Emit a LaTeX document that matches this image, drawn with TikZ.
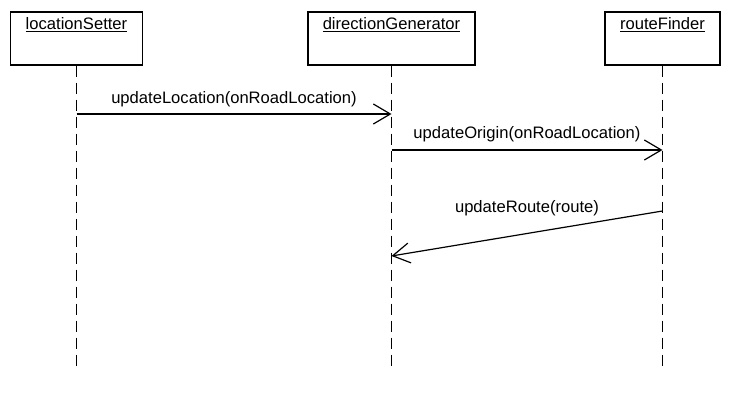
\documentclass[tikz,border=0pt]{standalone}
\usepackage{fontspec}
\setmainfont{Liberation Sans}
\usetikzlibrary{arrows.meta, positioning}
\begin{document}
\begin{tikzpicture}[x=1pt, y=-1pt,
		obj/.style={draw, line width=1.2pt, inner sep=0pt, minimum height=53pt},
		objname/.style={below=3pt of #1},
		life/.style={line width=1.2pt, dash pattern=on 11pt off 6pt},
		msg/.style={line width=1.2pt, -{Straight Barb[length=17pt, width=20pt]}},
		font=\fontsize{16.6}{20}\selectfont]
		% Bildbereich
		\useasboundingbox (0,0) rectangle (745,401);
		% Objekte zeichnen
		\node[obj, minimum width=132pt] (ls) at (76.5,38.5) {};
		\node[obj, minimum width=167pt] (dg) at (391.5,38.5) {};
		\node[obj, minimum width=115pt] (rf) at (662.5,38.5) {};
		\node[objname=ls.north] (lsName) {\underline{locationSetter}};
		\node[objname=dg.north] (dgName) {\underline{directionGenerator}};
		\node[objname=rf.north] (rfName) {\underline{routeFinder}};
		% Lebenslinien
		\coordinate (lsEnd) at (ls.south |- 0,369);
		\coordinate (dgEnd) at (dg.south |- 0,369);
		\coordinate (rfEnd) at (rf.south |- 0,369);
		\draw[life] (ls.south) -- (lsEnd);
		\draw[life] (dg.south) -- (dgEnd);
		\draw[life] (rf.south) -- (rfEnd);
		% Nachrichten
		\coordinate (m1a) at (ls.south |- 0,114);
		\coordinate (m1b) at (dg.south |- 0,114);
		\coordinate (m2a) at (dg.south |- 0,150);
		\coordinate (m2b) at (rf.south |- 0,150);
		\coordinate (m3a) at (rf.south |- 0,211);
		\coordinate (m3b) at (dg.south |- 0,256);
		\draw[msg] (m1a) -- node[above=3pt] {updateLocation(onRoadLocation)} (m1b);
		\draw[msg] (m2a) -- node[above=4pt] {updateOrigin(onRoadLocation)} (m2b);
		\draw[msg] (m3a) -- node[above=14pt] {updateRoute(route)} (m3b);
	\end{tikzpicture}
\end{document}
